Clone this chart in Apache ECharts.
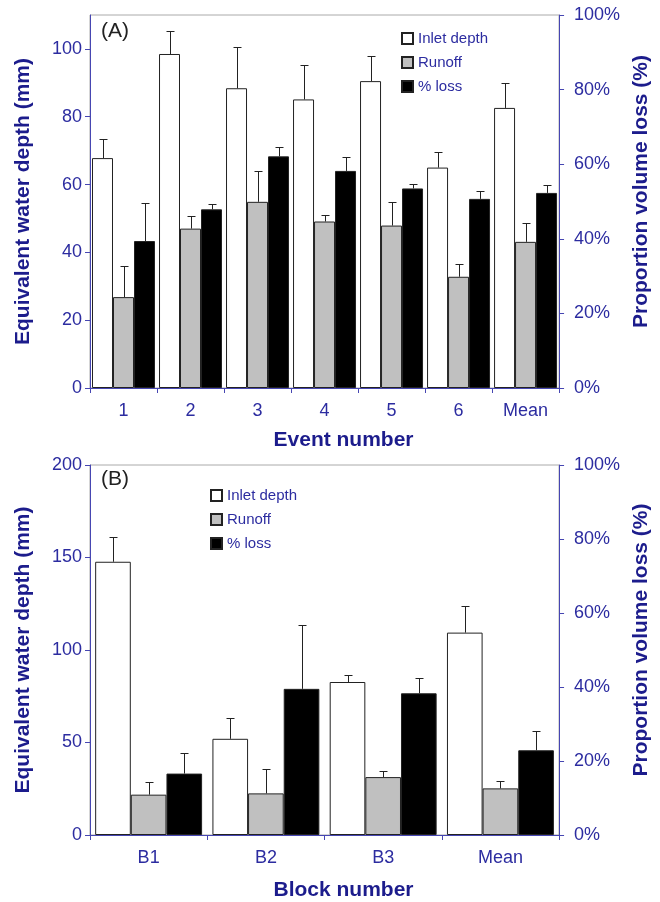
<!DOCTYPE html>
<html>
<head>
<meta charset="utf-8">
<script src="https://cdn.jsdelivr.net/npm/echarts@6/dist/echarts.min.js"></script>
<style>
  html, body { margin: 0; padding: 0; background: #fff; }
  #chart { width: 660px; height: 902px; }
</style>
</head>
<body>
<div id="chart"></div>
<script>
// panel A - events
const eventCats = ['1', '2', '3', '4', '5', '6', 'Mean']
const inletA = [67.8, 98.5, 88.4, 85.1, 90.5, 65.0, 82.6]
const inletErrA = [5.5, 6.7, 12.3, 10.1, 7.4, 4.7, 7.4]
const runoffA = [26.8, 47.0, 54.9, 49.1, 47.9, 32.8, 43.1]
const runoffErrA = [9.1, 3.8, 9.2, 1.9, 7.0, 3.9, 5.5]
const lossA = [39.4, 47.9, 62.1, 58.2, 53.5, 50.7, 52.3]
const lossErrA = [10.2, 1.3, 2.4, 3.8, 1.1, 2.1, 2.0]

// panel B - blocks
const blockCats = ['B1', 'B2', 'B3', 'Mean']
const inletB = [147.7, 52.0, 82.7, 109.4]
const inletErrB = [13.5, 11.3, 3.8, 14.6]
const runoffB = [21.8, 22.5, 31.3, 25.2]
const runoffErrB = [6.8, 13.3, 3.4, 3.9]
const lossB = [16.6, 39.5, 38.3, 22.9]
const lossErrB = [5.5, 17.3, 4.1, 5.2]

const leftTicksA = [0, 20, 40, 60, 80, 100]
const leftTicksB = [0, 50, 100, 150, 200]
const pctTicks = [0, 20, 40, 60, 80, 100]

const seriesNames = ['Inlet depth', 'Runoff', '% loss']
const fills = ['#ffffff', '#c0c0c0', '#000000']

const FONT = 'Liberation Sans, Arial, sans-serif'
const AXIS_BLUE = '#4646b2'
const LABEL_BLUE = '#2c2ca0'
const TITLE_BLUE = '#1c1c8c'
const GAP_A = 0.06
const GAP_B = 0.088

const chart = echarts.init(document.getElementById('chart'))

const errData = (vals, errs) => vals.map((v, i) => [i, v, v + errs[i]])

const errRender = (slot, gap) => (params, api) => {
  const cat = api.value(0)
  const base = api.coord([cat, api.value(1)])
  const hi = api.coord([cat, api.value(2)])
  const band = api.size([1, 0])[0]
  const bw = band * (1 - gap) / 3
  const x = Math.round(base[0] + (slot - 1) * bw) + 0.5
  const y1 = Math.round(hi[1]) + 0.5
  const st = { stroke: '#222', lineWidth: 1 }
  return {
    type: 'group',
    children: [
      { type: 'line', shape: { x1: x, y1: base[1], x2: x, y2: y1 }, style: st },
      { type: 'line', shape: { x1: x - 4, y1: y1, x2: x + 4, y2: y1 }, style: st }
    ]
  }
}

const yLeft = (grid, max, interval, ticks) => ({
  type: 'value', gridIndex: grid, min: 0, max: max, interval: interval,
  name: 'Equivalent water depth (mm)', nameLocation: 'middle', nameGap: 56,
  nameTextStyle: { color: TITLE_BLUE, fontSize: 21, fontWeight: 'bold', fontFamily: FONT },
  axisLine: { show: true, lineStyle: { color: AXIS_BLUE, width: 1 } },
  axisTick: { show: true, length: 5, customValues: ticks, lineStyle: { color: AXIS_BLUE } },
  axisLabel: { color: LABEL_BLUE, fontSize: 18, fontFamily: FONT, margin: 8, customValues: ticks },
  splitLine: { show: false }
})

const yRight = (grid) => ({
  type: 'value', gridIndex: grid, position: 'right', min: 0, max: 100, interval: 20,
  name: 'Proportion volume loss (%)', nameLocation: 'middle', nameGap: 60,
  nameTextStyle: { color: TITLE_BLUE, fontSize: 21, fontWeight: 'bold', fontFamily: FONT, padding: [0, 0, 0, 20] },
  axisLine: { show: true, lineStyle: { color: AXIS_BLUE, width: 1 } },
  axisTick: { show: true, length: 5, customValues: pctTicks, lineStyle: { color: AXIS_BLUE } },
  axisLabel: { color: LABEL_BLUE, fontSize: 18, fontFamily: FONT, margin: 15, formatter: '{value}%', customValues: pctTicks },
  splitLine: { show: false }
})

const xCat = (grid, cats, title, gap) => ({
  type: 'category', gridIndex: grid, data: cats,
  name: title, nameLocation: 'middle', nameGap: gap,
  nameTextStyle: { color: TITLE_BLUE, fontSize: 21, fontWeight: 'bold', fontFamily: FONT, padding: [0, 0, 0, 38] },
  axisLine: { show: true, lineStyle: { color: AXIS_BLUE, width: 1 } },
  axisTick: { show: true, length: 5, lineStyle: { color: AXIS_BLUE } },
  axisLabel: { color: LABEL_BLUE, fontSize: 18, fontFamily: FONT, margin: 14 }
})

const barSeries = (name, data, xi, yi, slot, gap) => ({
  name: name, type: 'bar', xAxisIndex: xi, yAxisIndex: yi, data: data,
  barGap: '0%', barCategoryGap: (gap * 100) + '%',
  itemStyle: { color: fills[slot], borderColor: '#222', borderWidth: 1 },
  emphasis: { disabled: true }
})

const errSeries = (data, errs, xi, yi, slot, gap) => ({
  type: 'custom', xAxisIndex: xi, yAxisIndex: yi,
  renderItem: errRender(slot, gap), data: errData(data, errs), z: 3, silent: true
})

const legendAt = (left, top) => ({
  data: seriesNames, orient: 'vertical', left: left, top: top,
  icon: 'rect', itemWidth: 11, itemHeight: 11, itemGap: 9,
  textStyle: { color: LABEL_BLUE, fontSize: 15, fontFamily: FONT },
  selectedMode: false
})

const option = {
  backgroundColor: '#fff',
  animation: false,
  grid: [
    { left: 90, top: 15, width: 470, height: 373, show: true, borderColor: '#aaaaaa', borderWidth: 1 },
    { left: 90, top: 465, width: 470, height: 371, show: true, borderColor: '#aaaaaa', borderWidth: 1 }
  ],
  legend: [legendAt(396, 26), legendAt(205, 483)],
  graphic: [
    { type: 'text', left: 101, top: 21, style: { text: '(A)', fontSize: 21, fontFamily: FONT, fill: '#222' } },
    { type: 'text', left: 101, top: 469, style: { text: '(B)', fontSize: 21, fontFamily: FONT, fill: '#222' } }
  ],
  xAxis: [
    xCat(0, eventCats, 'Event number', 42),
    xCat(1, blockCats, 'Block number', 45)
  ],
  yAxis: [
    yLeft(0, 110, 20, leftTicksA),
    yRight(0),
    yLeft(1, 200, 50, leftTicksB),
    yRight(1)
  ],
  series: [
    barSeries('Inlet depth', inletA, 0, 0, 0, GAP_A),
    barSeries('Runoff', runoffA, 0, 0, 1, GAP_A),
    barSeries('% loss', lossA, 0, 1, 2, GAP_A),
    errSeries(inletA, inletErrA, 0, 0, 0, GAP_A),
    errSeries(runoffA, runoffErrA, 0, 0, 1, GAP_A),
    errSeries(lossA, lossErrA, 0, 1, 2, GAP_A),
    barSeries('Inlet depth', inletB, 1, 2, 0, GAP_B),
    barSeries('Runoff', runoffB, 1, 2, 1, GAP_B),
    barSeries('% loss', lossB, 1, 3, 2, GAP_B),
    errSeries(inletB, inletErrB, 1, 2, 0, GAP_B),
    errSeries(runoffB, runoffErrB, 1, 2, 1, GAP_B),
    errSeries(lossB, lossErrB, 1, 3, 2, GAP_B)
  ]
}

chart.setOption(option)
</script>
</body>
</html>
